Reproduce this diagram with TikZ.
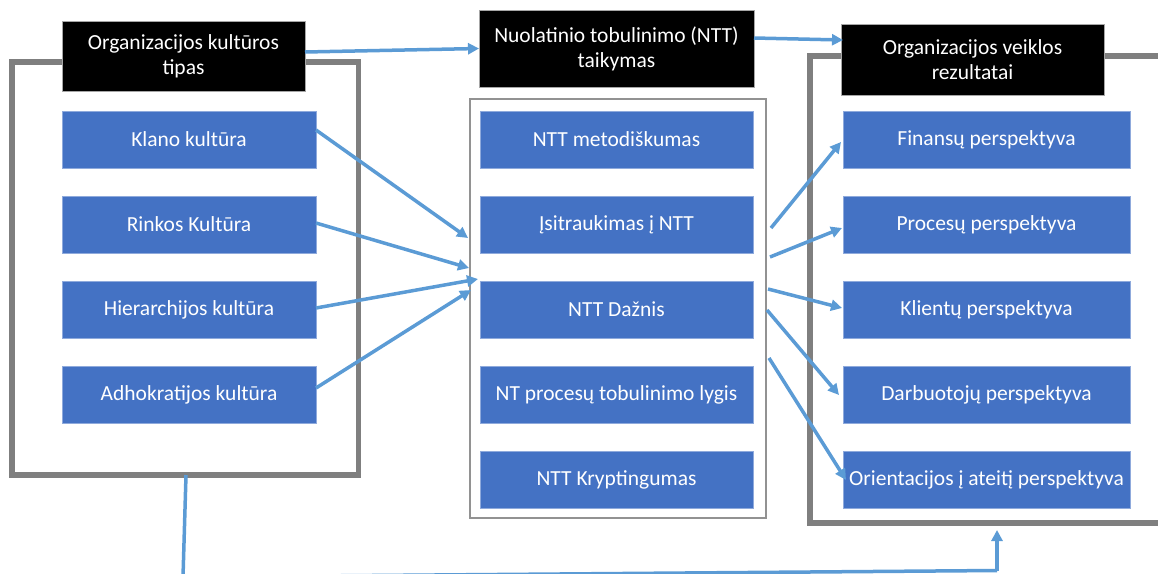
\documentclass[tikz,border=0pt]{standalone}
\usepackage{fontspec}
\setmainfont{Carlito}
\usetikzlibrary{arrows.meta,calc}
\definecolor{boxblue}{HTML}{4472C4}
\definecolor{boxedge}{HTML}{8FAADC}
\definecolor{connblue}{HTML}{5B9BD5}
\definecolor{framegray}{HTML}{7F7F7F}
\begin{document}
\begin{tikzpicture}[x=1pt,y=-1pt,
  txt/.style={text=white, font=\fontsize{21.5}{25}\selectfont, align=center, inner sep=0pt, outer sep=0pt},
  bluebox/.style={txt, fill=boxblue, draw=boxedge, line width=0.8pt, minimum height=57pt},
  leftbox/.style={bluebox, minimum width=254pt},
  midbox/.style={bluebox, minimum width=273pt},
  rightbox/.style={bluebox, minimum width=287pt},
  headbox/.style={txt, fill=black, draw=gray!70, line width=0.8pt},
  thickframe/.style={draw=framegray, line width=5.5pt, inner sep=0pt, outer sep=0pt},
  thinframe/.style={draw=framegray!85, line width=2pt, inner sep=0pt, outer sep=0pt},
  conn/.style={draw=connblue, line width=3.5pt, -{Triangle[length=11pt,width=11pt]}},
  connplain/.style={draw=connblue, line width=3.5pt}
]
\useasboundingbox (0,0) rectangle (1158,573);
\clip (0,0) rectangle (1158,573);

% frames
\node[thickframe, minimum width=346.5pt, minimum height=413pt] (leftframe) at (185.25,268.5) {};
\node[thinframe, minimum width=296pt, minimum height=419pt] (midframe) at (618,308.5) {};
\node[thickframe, minimum width=360pt, minimum height=467pt] (rightframe) at (990,289.5) {};

% header boxes
\node[headbox, minimum width=243pt, minimum height=70pt] (h1) at (183.5,56) {Organizacijos kultūros\\tipas};
\node[headbox, minimum width=275pt, minimum height=77pt] (h2) at (616.5,48.5) {Nuolatinio tobulinimo (NTT)\\taikymas};
\node[headbox, minimum width=263pt, minimum height=71pt] (h3) at (972.5,59.5) {Organizacijos veiklos\\rezultatai};

% left boxes
\node[leftbox] (klano) at (189,139.5) {Klano kultūra};
\node[leftbox] (rinkos) at (189,224.5) {Rinkos Kultūra};
\node[leftbox] (hier) at (189,309.5) {Hierarchijos kultūra};
\node[leftbox] (adho) at (189,394.5) {Adhokratijos kultūra};

% middle boxes
\node[midbox] (metod) at (616.5,139.5) {NTT metodiškumas};
\node[midbox] (isit) at (616.5,224.5) {Įsitraukimas į NTT};
\node[midbox] (dazn) at (616.5,309.5) {NTT Dažnis};
\node[midbox] (lygis) at (616.5,394.5) {NT procesų tobulinimo lygis};
\node[midbox] (krypt) at (616.5,479.5) {NTT Kryptingumas};

% right boxes
\node[rightbox] (fin) at (986.5,139.5) {Finansų perspektyva};
\node[rightbox] (proc) at (986.5,224.5) {Procesų perspektyva};
\node[rightbox] (klient) at (986.5,309.5) {Klientų perspektyva};
\node[rightbox] (darb) at (986.5,394.5) {Darbuotojų perspektyva};
\node[rightbox] (orient) at (986.5,479.5) {Orientacijos į ateitį perspektyva};

% coordinates for free ends
\coordinate (t1) at (468,238);
\coordinate (t2) at (469,268);
\coordinate (t3) at (478,279);
\coordinate (t4) at (471,290);
\coordinate (s1) at (771,228);
\coordinate (s2) at (770,257);
\coordinate (s3) at (768,289);
\coordinate (s4) at (767,310);
\coordinate (s5) at (769,358);
\coordinate (bdown) at (183,577);
\coordinate (bright) at (997,570.5);
\coordinate (bup) at (997,530);

% top connectors
\draw[conn] ([yshift=4pt]h1.east) -- (h2.west);
\draw[conn] ([yshift=10.5pt]h2.east) -- ([xshift=2pt,yshift=19.5pt]h3.west);

% left connectors
\draw[conn] ([yshift=9.5pt]klano.east) -- (t1);
\draw[conn] ([yshift=1.5pt]rinkos.east) -- (t2);
\draw[conn] ([yshift=1.5pt]hier.east) -- (t3);
\draw[conn] ([yshift=6.5pt]adho.east) -- (t4);

% right connectors
\draw[conn] (s1) -- ([xshift=-2pt,yshift=-2.5pt]fin.west);
\draw[conn] (s2) -- ([xshift=-1pt,yshift=-3.5pt]proc.west);
\draw[conn] (s3) -- ([xshift=-1pt,yshift=1.5pt]klient.west);
\draw[conn] (s4) -- ([xshift=-4pt,yshift=-0.5pt]darb.west);
\draw[conn] (s5) -- ([xshift=3pt,yshift=-0.5pt]orient.west);

% bottom connector
\draw[connplain, line join=miter] ([xshift=0.75pt]leftframe.south) -- (bdown) -- (bright);
\draw[conn] (bright) -- (bup);
\end{tikzpicture}
\end{document}
